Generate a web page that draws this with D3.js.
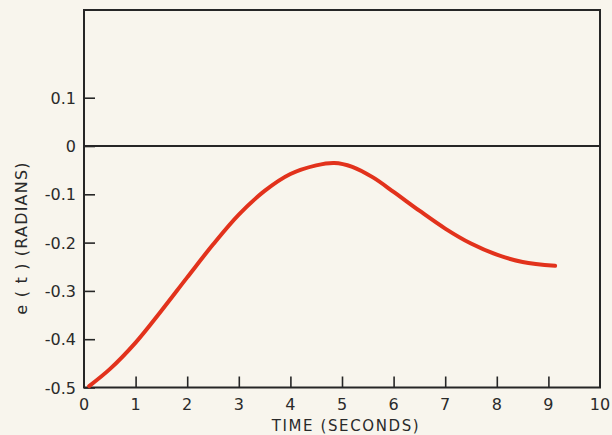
<!DOCTYPE html>
<html><head><meta charset="utf-8">
<script src="https://cdn.jsdelivr.net/npm/d3@7"></script>
<style>
html,body{margin:0;padding:0;background:#f8f5ed;}
svg{display:block;}
text{font-family:"DejaVu Sans",sans-serif;fill:#2a2a2a;}
</style></head><body>
<svg id="c" width="612" height="435"></svg>
<script>
const timeValues = [0.1,0.5,1.0,1.5,2.0,2.5,3.0,3.5,4.0,4.5,4.85,5.2,5.6,6.0,6.5,7.0,7.5,8.0,8.5,9.13];
const errorValues = [-0.497,-0.462,-0.407,-0.341,-0.272,-0.204,-0.142,-0.093,-0.058,-0.040,-0.035,-0.043,-0.065,-0.095,-0.134,-0.171,-0.202,-0.225,-0.240,-0.248];
const xTicks = [0,1,2,3,4,5,6,7,8,9,10];
const yTicks = [0.1,0,-0.1,-0.2,-0.3,-0.4,-0.5];
const yTickLabels = ["0.1","0","-0.1","-0.2","-0.3","-0.4","-0.5"];
const xTitle = "TIME (SECONDS)";
const yTitle = "e ( t ) (RADIANS)";

const svg = d3.select("#c");
const x = d3.scaleLinear().domain([0,10]).range([84,600]);
const y = d3.scaleLinear().domain([-0.5,0.2816]).range([387.5,10]);

const ink = "#262626";
svg.append("rect").attr("x",84).attr("y",10).attr("width",516).attr("height",377.5)
  .attr("fill","none").attr("stroke",ink).attr("stroke-width",2);
svg.append("line").attr("x1",84).attr("x2",600).attr("y1",y(0)).attr("y2",y(0))
  .attr("stroke",ink).attr("stroke-width",2);

const yAxis = svg.append("g").attr("transform","translate(84,0)")
  .call(d3.axisRight(y).tickValues(yTicks).tickSize(11).tickFormat(""));
yAxis.select(".domain").remove();
yAxis.selectAll("line").attr("stroke",ink).attr("stroke-width",1.6);
svg.selectAll(".ylab").data(yTicks).enter().append("text")
  .attr("x",76).attr("y",d=>y(d)+6).attr("text-anchor","end")
  .attr("font-size",16).text((d,i)=>yTickLabels[i]);

const xAxis = svg.append("g").attr("transform","translate(0,387.5)")
  .call(d3.axisTop(x).tickValues(xTicks.slice(1,10)).tickSize(11).tickFormat(""));
xAxis.select(".domain").remove();
xAxis.selectAll("line").attr("stroke",ink).attr("stroke-width",1.6);
svg.selectAll(".xlab").data(xTicks).enter().append("text")
  .attr("x",d=>x(d)).attr("y",410).attr("text-anchor","middle")
  .attr("font-size",16).text(d=>d);

svg.append("text").attr("x",346).attr("y",431).attr("text-anchor","middle")
  .attr("font-size",15).attr("letter-spacing",1.6).text(xTitle);
svg.append("text").attr("transform","translate(27,238) rotate(-90)")
  .attr("text-anchor","middle").attr("font-size",16).attr("letter-spacing",1.2).text(yTitle);

const data = timeValues.map((t,i)=>({t, e:errorValues[i]}));
svg.append("path").datum(data)
  .attr("fill","none").attr("stroke","#e2321c").attr("stroke-width",4)
  .attr("stroke-linecap","round")
  .attr("d", d3.line().x(d=>x(d.t)).y(d=>y(d.e)).curve(d3.curveCatmullRom.alpha(0.5)));
</script></body></html>
